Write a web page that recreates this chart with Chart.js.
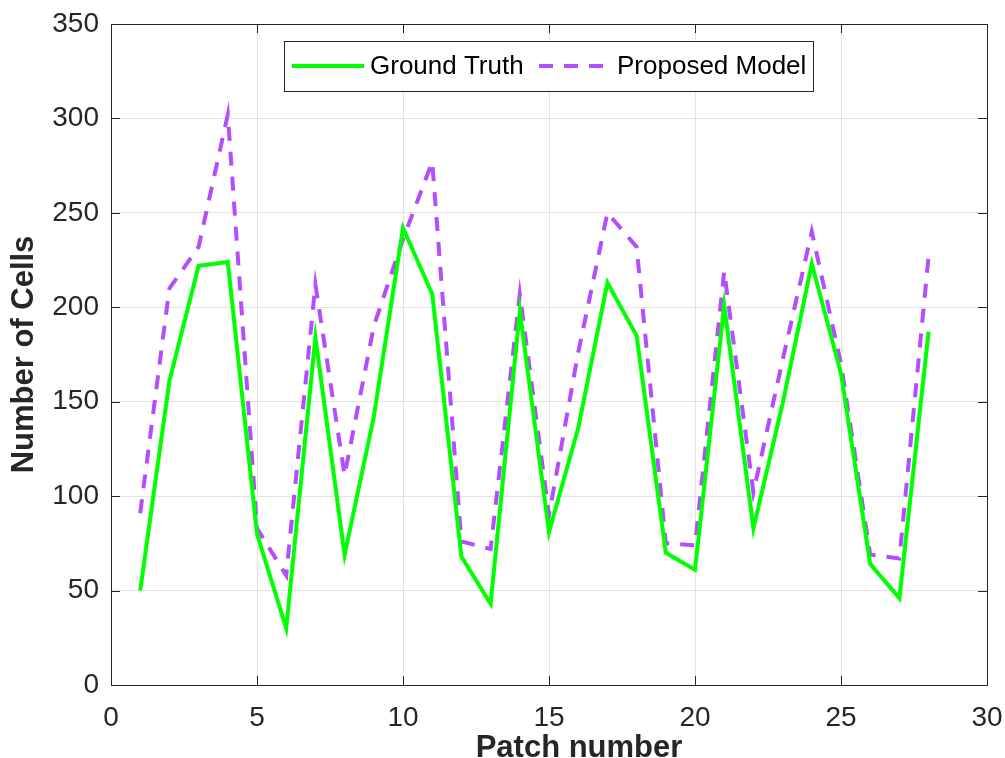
<!DOCTYPE html>
<html>
<head>
<meta charset="utf-8">
<script src="https://cdn.jsdelivr.net/npm/chart.js@4/dist/chart.umd.min.js"></script>
<style>
  html, body { margin: 0; padding: 0; background: #fff; }
  #wrap { width: 1005px; height: 758px; position: relative; }
</style>
</head>
<body>
<div id="wrap"><canvas id="grafico"></canvas></div>
<script>
const patches = [1, 2, 3, 4, 5, 6, 7, 8, 9, 10, 11, 12, 13, 14, 15, 16, 17, 18, 19, 20, 21, 22, 23, 24, 25, 26, 27, 28];
const groundTruth = [50, 161, 222, 224, 80, 30, 184, 69, 142, 242, 207, 68, 43, 198, 81, 136, 213, 185, 70, 61, 201, 83, 149, 223, 165, 64, 46, 187];
const proposedModel = [91, 210, 232, 302, 83, 58, 212, 111, 190, 236, 277, 76, 72, 207, 90, 176, 250, 232, 75, 74, 219, 102, 172, 240, 170, 69, 67, 227];
const xTicks = [0, 5, 10, 15, 20, 25, 30];
const yTicks = [0, 50, 100, 150, 200, 250, 300, 350];

const corEixo = "#262626";

// moldura, ticks para dentro, titulo do eixo x e legenda
const molduraPlugin = {
  id: "moldura",
  afterDraw(chart) {
    const { ctx, chartArea: a, scales } = chart;
    ctx.save();
    ctx.strokeStyle = corEixo;
    ctx.lineWidth = 1;
    ctx.beginPath();
    yTicks.forEach(v => {
      const y = Math.round(scales.y.getPixelForValue(v)) + 0.5;
      ctx.moveTo(a.left, y); ctx.lineTo(a.left + 9, y);
      ctx.moveTo(a.right, y); ctx.lineTo(a.right - 9, y);
    });
    xTicks.forEach(v => {
      const x = Math.round(scales.x.getPixelForValue(v)) + 0.5;
      ctx.moveTo(x, a.bottom); ctx.lineTo(x, a.bottom - 9);
      ctx.moveTo(x, a.top); ctx.lineTo(x, a.top + 9);
    });
    ctx.stroke();
    ctx.strokeRect(Math.round(a.left) + 0.5, Math.round(a.top) + 0.5,
      Math.round(a.right - a.left), Math.round(a.bottom - a.top));

    // titulo eixo x
    ctx.fillStyle = corEixo;
    ctx.font = "bold 31px 'Liberation Sans', Arial, sans-serif";
    ctx.textAlign = "center";
    ctx.textBaseline = "alphabetic";
    ctx.fillText("Patch number", 579, 757);

    // legenda
    const lx = 284, ly = 41, lw = 529, lh = 50;
    ctx.fillStyle = "#fff";
    ctx.fillRect(lx, ly, lw, lh);
    ctx.strokeStyle = corEixo;
    ctx.strokeRect(lx + 0.5, ly + 0.5, lw, lh);
    const cy = ly + lh / 2;
    const itens = [
      { ds: chart.data.datasets[0], x0: 292, tx: 370 },
      { ds: chart.data.datasets[1], x0: 539, tx: 617 }
    ];
    ctx.font = "26px 'Liberation Sans', Arial, sans-serif";
    ctx.textAlign = "left";
    ctx.textBaseline = "middle";
    itens.forEach(it => {
      ctx.beginPath();
      ctx.strokeStyle = it.ds.borderColor;
      ctx.lineWidth = it.ds.borderWidth;
      ctx.setLineDash(it.ds.borderDash || []);
      ctx.moveTo(it.x0, cy);
      ctx.lineTo(it.x0 + 72, cy);
      ctx.stroke();
      ctx.setLineDash([]);
      ctx.fillStyle = "#000";
      ctx.fillText(it.ds.label, it.tx, cy + 1);
    });
    ctx.restore();
  }
};

const semPadding = axis => {
  axis.paddingLeft = 0;
  axis.paddingRight = 0;
  axis.paddingTop = 0;
  axis.paddingBottom = 0;
};

const ctx = document.getElementById("grafico").getContext("2d");
new Chart(ctx, {
  type: "line",
  data: {
    datasets: [
      {
        label: "Ground Truth",
        data: patches.map((p, i) => ({ x: p, y: groundTruth[i] })),
        borderColor: "#00ff00",
        borderWidth: 4,
        pointRadius: 0,
        tension: 0,
        fill: false
      },
      {
        label: "Proposed Model",
        data: patches.map((p, i) => ({ x: p, y: proposedModel[i] })),
        borderColor: "#b34dff",
        borderWidth: 4,
        borderDash: [14, 11],
        pointRadius: 0,
        tension: 0,
        fill: false
      }
    ]
  },
  options: {
    responsive: true,
    maintainAspectRatio: false,
    animation: false,
    layout: { padding: { left: 0, top: 24, right: 18, bottom: 0 } },
    plugins: {
      legend: { display: false },
      tooltip: { enabled: false }
    },
    scales: {
      x: {
        type: "linear",
        min: 0,
        max: 30,
        afterBuildTicks: axis => { axis.ticks = xTicks.map(v => ({ value: v })); },
        afterFit: axis => { axis.height = 73; semPadding(axis); },
        border: { display: false },
        grid: { color: "#e3e3e3", lineWidth: 1, drawTicks: false },
        ticks: {
          padding: 16,
          color: corEixo,
          maxRotation: 0,
          font: { family: "'Liberation Sans', Arial, sans-serif", size: 28 }
        }
      },
      y: {
        min: 0,
        max: 350,
        afterBuildTicks: axis => { axis.ticks = yTicks.map(v => ({ value: v })); },
        afterFit: axis => { axis.width = 111; semPadding(axis); },
        border: { display: false },
        grid: { color: "#e3e3e3", lineWidth: 1, drawTicks: false },
        ticks: {
          padding: 12,
          color: corEixo,
          font: { family: "'Liberation Sans', Arial, sans-serif", size: 28 }
        },
        title: {
          display: true,
          text: "Number of Cells",
          color: corEixo,
          padding: { top: 6, bottom: 0 },
          font: { family: "'Liberation Sans', Arial, sans-serif", size: 31, weight: "bold" }
        }
      }
    }
  },
  plugins: [molduraPlugin]
});
</script>
</body>
</html>
